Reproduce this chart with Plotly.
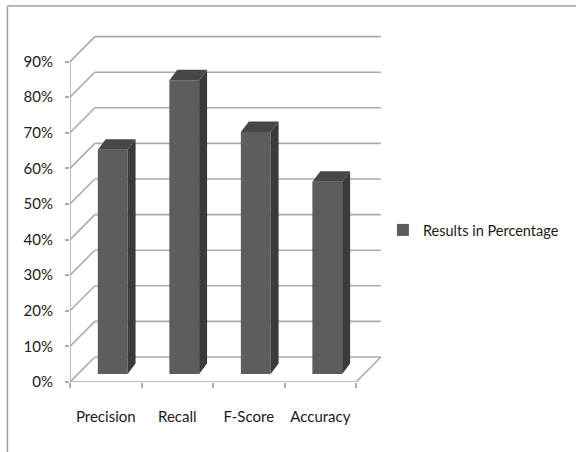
import plotly.graph_objects as go

# ---- data ----
categories = ["Precision", "Recall", "F-Score", "Accuracy"]
values = [63, 82.5, 68, 54]
series_name = "Results in Percentage"
y_ticks = [0, 10, 20, 30, 40, 50, 60, 70, 80, 90]
y_tick_labels = [f"{t}%" for t in y_ticks]

# ---- geometry (data units) ----
W, H = 576, 452
ML, MB, MT = 70, 70, 26
X_RANGE = [0, 4.6]
Y_RANGE = [0, 100]
plot_w = 331.2
MR = W - ML - plot_w
px_x = plot_w / (X_RANGE[1] - X_RANGE[0])
px_y = (H - MB - MT) / (Y_RANGE[1] - Y_RANGE[0])

WALL_DX, WALL_DY = 25 / px_x, 25 / px_y
BAR_FDX, BAR_FDY = 7 / px_x, 8 / px_y
BAR_DDX, BAR_DDY = 8 / px_x, 10.5 / px_y
BAR_W = 30 / px_x

n = len(categories)
centers = [i + 0.5 for i in range(n)]
front_x = [c + BAR_FDX for c in centers]

FRONT = "#5d5d5d"
TOP = "#474747"
SIDE = "#3b3b3b"
GRID = "#ababab"
TXT = "#1a1a1a"
FONT = "Lato"
FS = 15

fig = go.Figure()
fig.add_trace(go.Bar(
    x=front_x, y=values, base=BAR_FDY, width=BAR_W,
    marker=dict(color=FRONT, line=dict(width=0)),
    name=series_name, showlegend=True, hoverinfo="skip"))

side_x, side_y, top_x, top_y = [], [], [], []
for fx, v in zip(front_x, values):
    xl, xr = fx - BAR_W / 2, fx + BAR_W / 2
    b, t = BAR_FDY, BAR_FDY + v
    side_x += [xr, xr + BAR_DDX, xr + BAR_DDX, xr, xr, None]
    side_y += [b, b + BAR_DDY, t + BAR_DDY, t, b, None]
    top_x += [xl, xl + BAR_DDX, xr + BAR_DDX, xr, xl, None]
    top_y += [t, t + BAR_DDY, t + BAR_DDY, t, t, None]

fig.add_trace(go.Scatter(x=side_x, y=side_y, fill="toself", fillcolor=SIDE,
                         mode="lines", line=dict(width=0, color=SIDE),
                         showlegend=False, hoverinfo="skip"))
fig.add_trace(go.Scatter(x=top_x, y=top_y, fill="toself", fillcolor=TOP,
                         mode="lines", line=dict(width=0, color=TOP),
                         showlegend=False, hoverinfo="skip"))

shapes = []
line = dict(color=GRID, width=1.6)
for t in y_ticks:
    # side wall diagonal
    shapes.append(dict(type="line", xref="x", yref="y", x0=0, y0=t,
                       x1=WALL_DX, y1=t + WALL_DY, line=line, layer="below"))
    # back wall gridline
    shapes.append(dict(type="line", xref="x", yref="y", x0=WALL_DX, y0=t + WALL_DY,
                       x1=n + WALL_DX, y1=t + WALL_DY, line=line, layer="below"))
# front vertical axis
shapes.append(dict(type="line", xref="x", yref="y", x0=0, y0=0, x1=0, y1=y_ticks[-1],
                   line=line, layer="below"))
# floor front edge and right diagonal
shapes.append(dict(type="line", xref="x", yref="y", x0=0, y0=0, x1=n, y1=0,
                   line=line, layer="below"))
shapes.append(dict(type="line", xref="x", yref="y", x0=n, y0=0, x1=n + WALL_DX,
                   y1=WALL_DY, line=line, layer="below"))

# chart frame (top and left border)
def px2paper_x(p):
    return (p - ML) / plot_w
def px2paper_y(p):
    return (H - MB - p) / (H - MB - MT)
frame = dict(color="#a0a0a0", width=1.5)
shapes.append(dict(type="line", xref="paper", yref="paper",
                   x0=px2paper_x(7), y0=px2paper_y(6), x1=px2paper_x(580), y1=px2paper_y(6),
                   line=frame))
shapes.append(dict(type="line", xref="paper", yref="paper",
                   x0=px2paper_x(7), y0=px2paper_y(6), x1=px2paper_x(7), y1=px2paper_y(460),
                   line=frame))

fig.update_layout(
    width=W, height=H,
    margin=dict(l=ML, r=MR, t=MT, b=MB, pad=0),
    paper_bgcolor="white", plot_bgcolor="white",
    font=dict(family=FONT, size=FS, color=TXT),
    shapes=shapes,
    barmode="overlay",
    showlegend=True,
    legend=dict(x=px2paper_x(385), y=px2paper_y(230), xanchor="left", yanchor="middle",
                font=dict(family=FONT, size=14.5, color=TXT), bgcolor="rgba(0,0,0,0)"),
    xaxis=dict(range=X_RANGE, showgrid=False, zeroline=False, showline=False,
               tickmode="array", tickvals=centers, ticktext=categories, ticks="",
               ticklabelstandoff=24,
               minor=dict(tick0=0, dtick=1, ticks="outside", ticklen=5,
                          tickcolor=GRID, tickwidth=1.5, showgrid=False),
               fixedrange=True),
    yaxis=dict(range=Y_RANGE, showgrid=False, zeroline=False, showline=False,
               tickmode="array", tickvals=y_ticks, ticktext=y_tick_labels,
               ticks="outside", ticklen=4, tickcolor=GRID, tickwidth=1.5,
               ticklabelstandoff=9, fixedrange=True),
)

fig.write_html("out.html")
